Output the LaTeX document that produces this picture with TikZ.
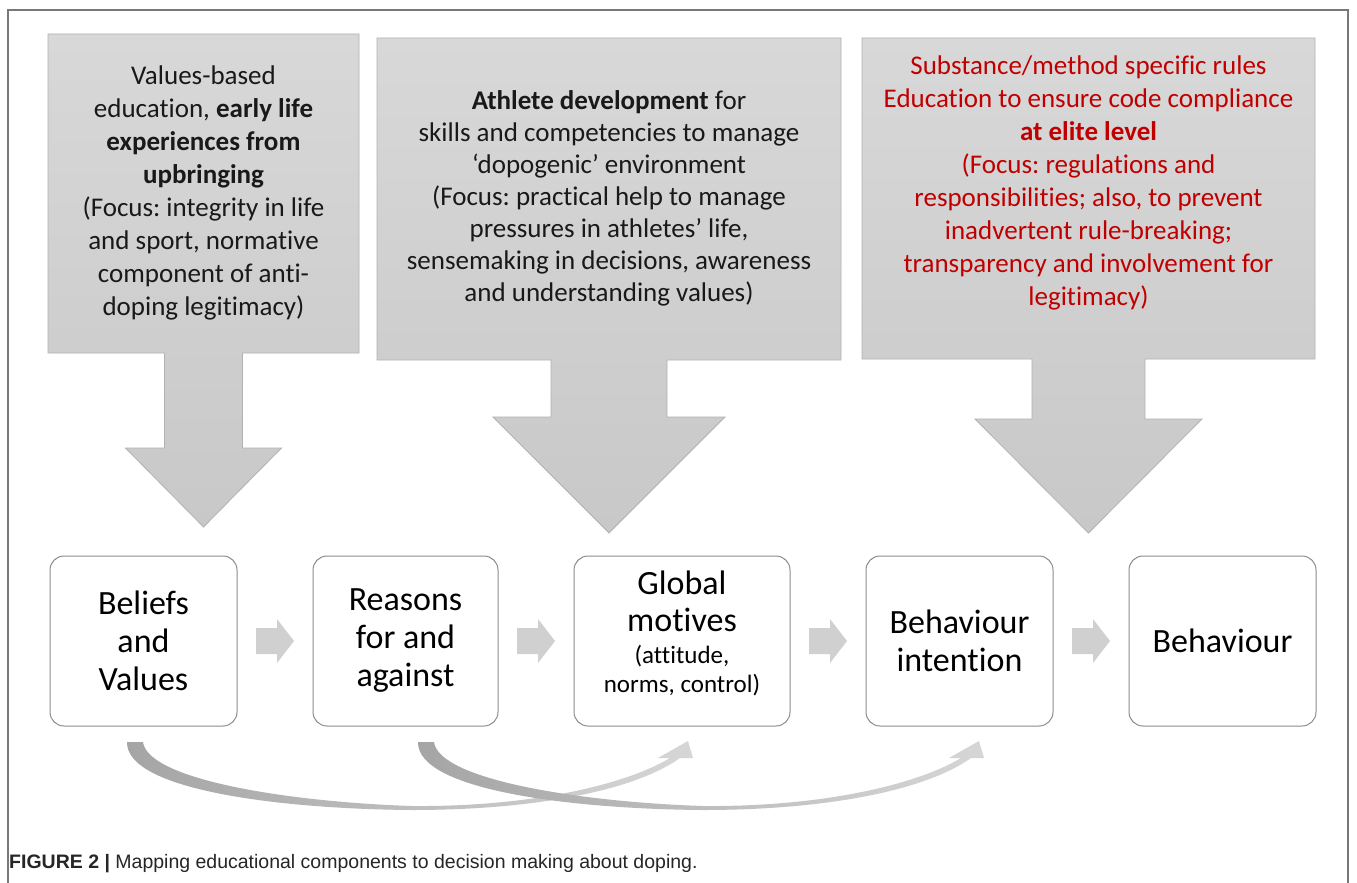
\documentclass[tikz,border=0pt]{standalone}
\usepackage{fontspec}
\setmainfont{Carlito}[Ligatures=NoCommon]
\newfontfamily\capfont{Liberation Sans}
\usetikzlibrary{positioning,calc}
\frenchspacing

\definecolor{boxtop}{RGB}{216,216,216}
\definecolor{boxgray}{RGB}{200,200,200}
\definecolor{boxline}{RGB}{178,178,178}
\definecolor{framegray}{RGB}{120,120,120}
\definecolor{stageline}{RGB}{140,140,140}
\definecolor{smallgray}{RGB}{208,208,208}
\definecolor{textred}{RGB}{192,0,0}
\definecolor{curvedark}{RGB}{165,165,165}
\definecolor{curvelight}{RGB}{214,214,214}

\begin{document}
\begin{tikzpicture}[
    x=1pt, y=-1pt, node distance=75pt,
    callout/.style={top color=boxtop, bottom color=boxgray, draw=boxline, line width=0.8pt},
    calltext/.style={align=center, font=\fontsize{27}{33}\selectfont, text=black!90},
    stage/.style={draw=stageline, line width=1pt, rounded corners=14pt, fill=white,
        minimum height=170pt, align=center, font=\fontsize{34}{38}\selectfont, inner sep=0pt},
    nextarrow/.style={fill=smallgray},
    bendarrow/.style={left color=curvedark, right color=curvelight, draw=none}
]
\useasboundingbox (0,0) rectangle (1357,883);
\fill[white] (0,0) rectangle (1357,883);
\draw[framegray, line width=1.2pt] (8,890) -- (8,10) -- (1348,10) -- (1348,890);

% education callouts
\path[callout] (48,34) -- (359,34) -- (359,353) -- (242.5,353) -- (242.5,448) -- (281.5,448)
  -- (203.5,527) -- (125.5,448) -- (164.5,448) -- (164.5,353) -- (48,353) -- cycle;
\path[callout] (377,38) -- (841,38) -- (841,360) -- (667,360) -- (667,417) -- (725,417)
  -- (609,533) -- (493,417) -- (551,417) -- (551,360) -- (377,360) -- cycle;
\path[callout] (862,38) -- (1315,38) -- (1315,359) -- (1145,359) -- (1145,419) -- (1202,419)
  -- (1088.5,533) -- (975,419) -- (1032,419) -- (1032,359) -- (862,359) -- cycle;

\node[calltext] (values) at (203.5,193) {Values-based\\education, \textbf{early life}\\
  \textbf{experiences from}\\\textbf{upbringing}\\(Focus: integrity in life\\
  and sport, normative\\component of anti-\\doping legitimacy)};
\node[calltext, font=\fontsize{27}{32}\selectfont] (athlete) at (609,198) {\textbf{Athlete development} for\\
  skills and competencies to manage\\‘dopogenic’ environment\\(Focus: practical help to manage\\
  pressures in athletes’ life,\\sensemaking in decisions, awareness\\and understanding values)};
\node[calltext, text=textred] (rules) at (1088.5,183) {Substance/method specific rules\\
  Education to ensure code compliance\\\textbf{at elite level}\\(Focus: regulations and\\
  responsibilities; also, to prevent\\inadvertent rule-breaking;\\
  transparency and involvement for\\legitimacy)};

% decision stages
\node[stage, minimum width=187pt] (beliefs) at (143.5,641) {Beliefs\\and\\Values};
\node[stage, minimum width=185pt, right=of beliefs] (reasons) {Reasons\\for and\\against};
\node[stage, minimum width=216pt, right=of reasons] (motives) {Global\\[-1pt]motives\\[-6pt]
  {\fontsize{25}{29}\selectfont (attitude,}\\[-9pt]{\fontsize{25}{29}\selectfont norms, control)}\rule[-19pt]{0pt}{19pt}};
\node[stage, minimum width=187pt, right=of motives] (intention) {Behaviour\\intention};
\node[stage, minimum width=187pt, right=of intention] (behaviour) {Behaviour};

\foreach \a/\b in {beliefs/reasons,reasons/motives,motives/intention,intention/behaviour}
  \fill[nextarrow] ($(\a.east)!0.5!(\b.west)$) ++(-19,-13) -- ++(21,0) -- ++(0,-9) -- ++(17,22)
    -- ++(-17,22) -- ++(0,-9) -- ++(-21,0) -- cycle;

% curved links below
\path[bendarrow] (127,742) -- (143,742) .. controls (148,780) and (290,802) .. (412,806)
  .. controls (530,807) and (625,785) .. (670,758) -- (658,758) -- (688,741) -- (693,758) -- (680,758)
  .. controls (632,792) and (530,810) .. (412,810) .. controls (280,809) and (126,790) .. (127,742) -- cycle;
\begin{scope}[xshift=291pt]
\path[bendarrow] (127,742) -- (143,742) .. controls (148,780) and (290,802) .. (412,806)
  .. controls (530,807) and (625,785) .. (670,758) -- (658,758) -- (688,741) -- (693,758) -- (680,758)
  .. controls (632,792) and (530,810) .. (412,810) .. controls (280,809) and (126,790) .. (127,742) -- cycle;
\end{scope}

\node[anchor=base west, inner sep=0pt, text=black!85, font=\capfont\fontsize{19.5}{23}\selectfont] (caption)
  at (9,868) {\textbf{FIGURE 2 |} Mapping educational components to decision making about doping.};
\end{tikzpicture}
\end{document}
